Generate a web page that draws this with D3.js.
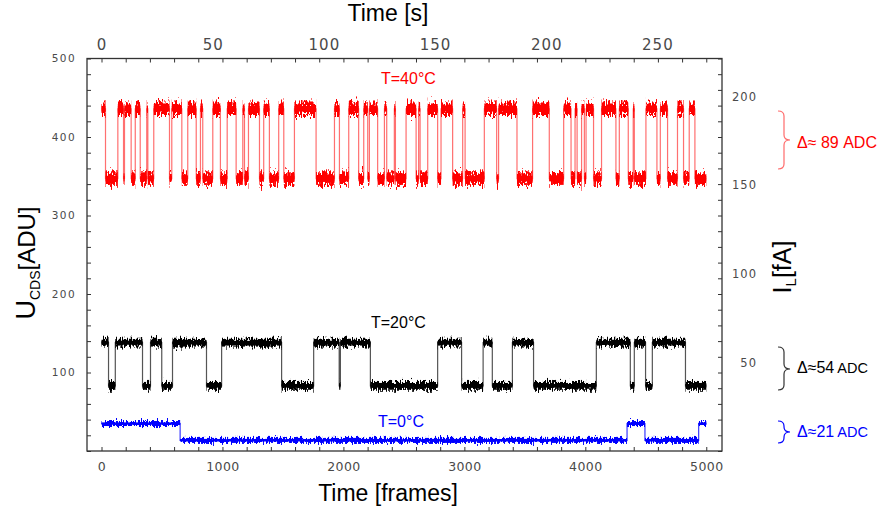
<!DOCTYPE html>
<html><head><meta charset="utf-8">
<script src="https://cdn.jsdelivr.net/npm/d3@7"></script>
<style>body{margin:0;background:#fff;} svg{display:block;font-family:"Liberation Sans",Arial,sans-serif;}</style>
</head><body>
<svg id="chart" width="877" height="514"></svg>
<script>
// ---------------- data ----------------
const frameLabels = [0, 1000, 2000, 3000, 4000, 5000];
const secondLabels = [0, 50, 100, 150, 200, 250];
const aduLabels = [100, 200, 300, 400, 500];
const fALabels = [50, 100, 150, 200];
const frameTickStep = 200;
const aduTickStep = 20;
const secondsPerFrame = 0.0544;
const fAPerADU = 0.443;
const totalFrames = 5000;

// T=40°C : frames where the signal toggles (starts in high state)
const redSwitches = [33,135,182,190,245,279,320,374,383,432,562,581,664,713,783,818,837,920,983,1039,
  1113,1168,1182,1215,1306,1341,1388,1465,1507,1595,1774,1926,1967,2044,2126,2168,2201,2215,2283,2339,
  2358,2421,2430,2518,2601,2622,2634,2697,2779,2807,2903,2986,3006,3165,3267,3283,3435,3564,3702,3821,
  3882,3915,3932,3969,3992,4006,4068,4134,4253,4281,4355,4396,4405,4501,4592,4620,4680,4762,4812,4859,4906];
const redLevels = [347, 436];     // low, high [ADU]
const redNoise = 8;               // half band [ADU]

// T=20°C
const blackSwitches = [58,114,339,405,498,587,868,993,1489,1754,1965,1975,2223,2779,2977,3155,3231,3397,3572,4091,4372,4405,4498,4554,4828];
const blackLevels = [83, 138];
const blackNoise = 5;

// T=0°C
const blueSwitches = [650, 4345, 4493, 4937];
const blueLevels = [13.5, 35];
const blueNoise = 3.2;

const seriesLabels = ["T=40°C", "T=20°C", "T=0°C"];
const deltaLabels = [["Δ≈ 89 ADC"], ["Δ≈54", "ADC"], ["Δ≈21", "ADC"]];
const colors = ["#ff0000", "#000000", "#0000ff"];

// ---------------- layout ----------------
const svg = d3.select("#chart");
const L = 87, R = 722, T = 58.5, B = 451;

const x = d3.scaleLinear().domain([-120, 5130]).range([L, R]);
const y = d3.scaleLinear().domain([0, 500]).range([B, T]);
const xs = d3.scaleLinear().domain(x.domain().map(f => f * secondsPerFrame)).range([L, R]);
const yfA = d3.scaleLinear().domain(y.domain().map(v => v * fAPerADU)).range([B, T]);

const frameTicks = d3.range(0, totalFrames + 1, frameTickStep);
const aduTicks = d3.range(0, 501, aduTickStep);

// filters for trace noise texture
const defs = svg.append("defs");
[["nR", 18, 3], ["nK", 13, 7], ["nB", 10, 11]].forEach(([id, sc, seed]) => {
  const f = defs.append("filter").attr("id", id).attr("filterUnits", "userSpaceOnUse")
    .attr("x", 0).attr("y", 0).attr("width", 877).attr("height", 514)
    .attr("color-interpolation-filters", "sRGB");
  f.append("feTurbulence").attr("type", "fractalNoise").attr("baseFrequency", "0.8 0.2")
    .attr("numOctaves", 2).attr("seed", seed).attr("result", "t");
  f.append("feColorMatrix").attr("in", "t").attr("type", "matrix")
    .attr("values", "1 0 0 0 0  0 0 0 0 0.5  0 0 0 0 0  0 0 0 0 1").attr("result", "m");
  f.append("feDisplacementMap").attr("in", "SourceGraphic").attr("in2", "m")
    .attr("scale", sc).attr("xChannelSelector", "G").attr("yChannelSelector", "R");
});

function buildPoints(switches, levels) {
  let s = 1;
  const pts = [[0, levels[s]]];
  switches.forEach(f => { s = 1 - s; pts.push([f, levels[s]]); });
  pts.push([totalFrames, levels[s]]);
  return pts;
}

const traces = [
  {pts: buildPoints(redSwitches, redLevels), noise: redNoise, color: colors[0], filt: "nR", edge: "#ff7070"},
  {pts: buildPoints(blackSwitches, blackLevels), noise: blackNoise, color: colors[1], filt: "nK", edge: "#555"},
  {pts: buildPoints(blueSwitches, blueLevels), noise: blueNoise, color: colors[2], filt: "nB", edge: "#3a3aff"}
];

const line = d3.line().x(d => x(d[0])).y(d => y(d[1])).curve(d3.curveStepAfter);

traces.forEach(tr => {
  const segs = tr.pts.slice(0, -1).map((p, i) => [p[0], tr.pts[i + 1][0], p[1]]);
  svg.append("path").attr("d", line(tr.pts)).attr("fill", "none")
    .attr("stroke", tr.edge).attr("stroke-width", 1.2);
  // dense core of the noise band
  svg.append("g").selectAll("rect").data(segs).join("rect")
    .attr("x", d => x(d[0])).attr("width", d => Math.max(1, x(d[1]) - x(d[0])))
    .attr("y", d => y(d[2] + tr.noise * 0.45)).attr("height", d => y(d[2] - tr.noise * 0.45) - y(d[2] + tr.noise * 0.45))
    .attr("fill", tr.color);
  // jagged noise envelope
  svg.append("g").attr("filter", `url(#${tr.filt})`)
    .selectAll("rect").data(segs).join("rect")
    .attr("x", d => x(d[0])).attr("width", d => Math.max(1, x(d[1]) - x(d[0])))
    .attr("y", d => y(d[2] + tr.noise)).attr("height", d => y(d[2] - tr.noise) - y(d[2] + tr.noise))
    .attr("fill", tr.color);
});

// ---------------- axes ----------------
const tickColor = "#333", labColor = "#4a4a4a";
function style(g) {
  g.select(".domain").remove();
  g.selectAll(".tick line").attr("stroke", tickColor);
  g.selectAll("text").attr("fill", labColor).attr("font-family", "'DejaVu Sans',sans-serif");
}
// left
svg.append("g").attr("transform", `translate(${L},0)`)
  .call(d3.axisLeft(y).tickValues(aduTicks).tickSize(-4).tickPadding(11)
    .tickFormat(d => aduLabels.includes(d) ? d : ""))
  .call(style).call(g => g.selectAll("text").attr("font-size", 10.5).attr("letter-spacing", 1.4));
// right ticks
svg.append("g").attr("transform", `translate(${R},0)`)
  .call(d3.axisRight(y).tickValues(aduTicks).tickSize(-4).tickFormat(""))
  .call(style);
// right labels (fA)
svg.append("g").attr("transform", `translate(${R},0)`)
  .call(d3.axisRight(yfA).tickValues(fALabels).tickSize(0).tickPadding(35))
  .call(style).call(g => g.selectAll("text").attr("text-anchor", "end").attr("font-size", 11.5).attr("letter-spacing", 1));
// bottom
svg.append("g").attr("transform", `translate(0,${B})`)
  .call(d3.axisBottom(x).tickValues(frameTicks).tickSize(-4).tickPadding(11)
    .tickFormat(d => frameLabels.includes(d) ? d : ""))
  .call(style).call(g => g.selectAll("text").attr("font-size", 12.5).attr("letter-spacing", 0.4));
// top ticks
svg.append("g").attr("transform", `translate(0,${T})`)
  .call(d3.axisTop(x).tickValues(frameTicks).tickSize(-4).tickFormat(""))
  .call(style);
// top labels (seconds)
svg.append("g").attr("transform", `translate(0,${T})`)
  .call(d3.axisTop(xs).tickValues(secondLabels).tickSize(0).tickPadding(8.5))
  .call(style).call(g => g.selectAll("text").attr("font-size", 15).attr("letter-spacing", 1));

// frame
svg.append("rect").attr("x", L).attr("y", T).attr("width", R - L).attr("height", B - T)
  .attr("fill", "none").attr("stroke", "#333").attr("stroke-width", 1.3);

// ---------------- titles ----------------
svg.append("text").attr("x", 388).attr("y", 21).attr("text-anchor", "middle")
  .attr("font-size", 23).text("Time [s]");
svg.append("text").attr("x", 388).attr("y", 501).attr("text-anchor", "middle")
  .attr("font-size", 23).text("Time [frames]");

const yl = svg.append("text").attr("transform", "translate(35,263) rotate(-90)")
  .attr("text-anchor", "middle").attr("font-size", 24);
yl.append("tspan").attr("font-size", 27).text("U");
yl.append("tspan").attr("font-size", 14).attr("dy", 5).text("CDS");
yl.append("tspan").attr("dy", -5).text("[ADU]");

const yr = svg.append("text").attr("transform", "translate(791,267) rotate(-90)")
  .attr("text-anchor", "middle").attr("font-size", 25);
yr.append("tspan").text("I");
yr.append("tspan").attr("font-size", 15).attr("dy", 5).text("L");
yr.append("tspan").attr("dy", -5).text("[fA]");

// ---------------- annotations ----------------
const annPos = [[381, 84], [371, 328], [378, 427]];
seriesLabels.forEach((t, i) => {
  svg.append("text").attr("x", annPos[i][0]).attr("y", annPos[i][1]).attr("font-size", 16)
    .attr("fill", colors[i]).text(t);
});

function brace(x0, top, bot, mid) {
  const x1 = x0 + 6, x2 = x0 + 12, r = 5;
  return `M${x0},${top} Q${x1},${top} ${x1},${top + r} L${x1},${mid - r} Q${x1},${mid} ${x2},${mid}` +
    ` Q${x1},${mid} ${x1},${mid + r} L${x1},${bot - r} Q${x1},${bot} ${x0},${bot}`;
}
const braceSpec = [[111, 169, 140, "#ff6b6b", 147.5], [347, 390, 369, "#333", 373], [421, 443, 432, "#0000ff", 437]];
braceSpec.forEach((b, i) => {
  svg.append("path").attr("d", brace(778, b[0], b[1], b[2])).attr("fill", "none")
    .attr("stroke", b[3]).attr("stroke-width", 1.2);
  const t = svg.append("text").attr("x", 797).attr("y", b[4]).attr("font-size", 16).attr("fill", colors[i]);
  t.append("tspan").text(deltaLabels[i][0]);
  if (deltaLabels[i][1]) t.append("tspan").attr("dx", 3).attr("font-size", 14.5).text(deltaLabels[i][1]);
});
</script>
</body></html>
